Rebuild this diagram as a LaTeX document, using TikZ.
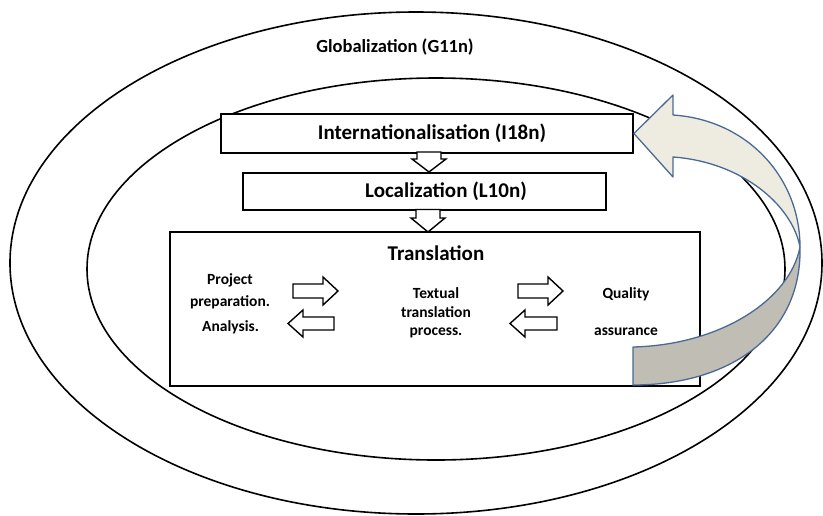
\documentclass[tikz,border=0pt]{standalone}
\usepackage{fontspec}
\setmainfont{Carlito}
\definecolor{bandline}{HTML}{4A6A96}
\definecolor{bandfront}{HTML}{EEECE1}
\definecolor{bandback}{HTML}{BFBDB4}
\begin{document}
\begin{tikzpicture}[x=1pt,y=-1pt,
  ring/.style={draw=black,line width=1.6pt},
  stage/.style={draw=black,fill=white,line width=1.8pt,rectangle,inner sep=0pt},
  bigtxt/.style={font=\fontsize{21}{24}\selectfont\bfseries,inner sep=0pt},
  smalltxt/.style={font=\fontsize{15.5}{22}\selectfont\bfseries,inner sep=0pt,align=center},
  hollowline/.style={draw=black,fill=white,line width=1.4pt,line join=miter},
  % hollow block arrow: {length}{shaft half width}{head half width}{head length}, tail at the origin
  pics/hollow/.style n args={4}{code={
    \path[hollowline] (0,-#2) -- ({#1-#4},-#2) -- ({#1-#4},-#3) -- (#1,0)
      -- ({#1-#4},#3) -- ({#1-#4},#2) -- (0,#2) -- cycle;
  }}
]
\useasboundingbox (0,0) rectangle (823,515);

% nested scopes
\draw[ring] (416,263) ellipse [x radius=406, y radius=251];
\draw[ring] (436,269) ellipse [x radius=349, y radius=191];
\node[bigtxt,font=\fontsize{18.5}{22}\selectfont\bfseries] (g11n) at (395,47) {Globalization (G11n)};

% stage boxes
\node[stage,minimum width=412pt,minimum height=39pt] (i18n) at (427,133.5) {};
\node[bigtxt] (i18ntxt) at (432,133.5) {Internationalisation (I18n)};
\node[stage,minimum width=363pt,minimum height=37pt] (l10n) at (424.5,191.5) {};
\node[bigtxt] (l10ntxt) at (446,191.5) {Localization (L10n)};
\node[stage,minimum width=530pt,minimum height=154pt] (trans) at (435,309) {};
\node[bigtxt] (transtxt) at (436,253) {Translation};

% arrows between stages
\pic[rotate=-90] (d1) at (429,152) {hollow={20}{12}{17}{13}};
\pic[rotate=-90] (d2) at (428,209.5) {hollow={22.5}{12}{17}{14}};

% translation sub-steps
\node[smalltxt] (prep) at (230,291) {Project\\preparation.};
\node[smalltxt] (anal) at (230.5,327.5) {Analysis.};
\node[smalltxt,font=\fontsize{15.5}{18.5}\selectfont\bfseries] (textual) at (436,313) {Textual\\translation\\process.};
\node[smalltxt] (qual) at (626,294) {Quality};
\node[smalltxt] (assur) at (626,332) {assurance};

\pic (r1) at (293,291) {hollow={45}{7}{14}{15}};
\pic[rotate=180] (l1) at (334,323.5) {hollow={46}{6.5}{13.5}{15}};
\pic (r2) at (518,291) {hollow={45}{7}{14}{15}};
\pic[rotate=180] (l2) at (557,323.5) {hollow={47}{6.5}{13.5}{15}};

% curved feedback arrow back to internationalisation
\coordinate (twist) at (800,247);
\filldraw[draw=bandline,fill=bandfront,line width=1.3pt,line join=round]
  (i18n.east) -- (673,95) -- (673,115)
  .. controls (748,120) and (800,178) .. (twist)
  .. controls (792,205) and (742,162) .. (673,157)
  -- (673,177) -- cycle;
\filldraw[draw=bandline,fill=bandback,line width=1.3pt,line join=round]
  (twist) .. controls (802,335) and (730,385) .. (633,385)
  -- (633,347) .. controls (720,345) and (790,300) .. (twist) -- cycle;
\end{tikzpicture}
\end{document}
